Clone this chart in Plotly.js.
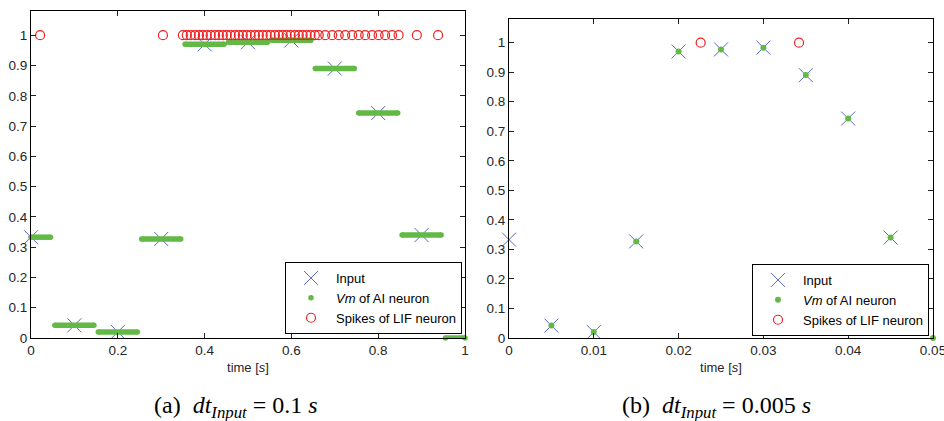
<!DOCTYPE html>
<html>
<head>
<meta charset="utf-8">
<script src="https://cdn.plot.ly/plotly-3.0.1.min.js"></script>
<style>html,body{margin:0;padding:0;background:#fff;}#chart{width:944px;height:421px;}</style>
</head>
<body>
<div id="chart"></div>
<script>
// ---------- data: panel (a), dt_Input = 0.1 s ----------
var inputTimesA = [0, 0.1, 0.2, 0.3, 0.4, 0.5, 0.6, 0.7, 0.8, 0.9];
var inputValuesA = [0.333, 0.042, 0.020, 0.327, 0.970, 0.977, 0.983, 0.890, 0.743, 0.340];
var vmStartA = [0, 0.055, 0.155, 0.255, 0.355, 0.455, 0.555, 0.655, 0.755, 0.855, 0.955];
var vmEndA   = [0.045, 0.145, 0.245, 0.345, 0.445, 0.545, 0.645, 0.745, 0.845, 0.945, 1.0];
var vmValuesA = [0.333, 0.042, 0.020, 0.327, 0.970, 0.977, 0.983, 0.890, 0.743, 0.340, 0];
var spikeTimesA = [0.021, 0.304,
  0.350, 0.359, 0.368, 0.378, 0.387, 0.396, 0.405, 0.414, 0.424, 0.433,
  0.442, 0.451, 0.460, 0.470, 0.479, 0.488, 0.497, 0.506, 0.516, 0.525,
  0.534, 0.543, 0.552, 0.562, 0.571, 0.580, 0.589, 0.598, 0.608, 0.617,
  0.626, 0.635, 0.644, 0.654,
  0.663, 0.678, 0.694, 0.709, 0.724, 0.740, 0.755, 0.770, 0.786, 0.801,
  0.816, 0.832, 0.847,
  0.889, 0.938];
var spikeValuesA = spikeTimesA.map(function(){ return 1; });

// ---------- data: panel (b), dt_Input = 0.005 s ----------
var inputTimesB = [0, 0.005, 0.010, 0.015, 0.020, 0.025, 0.030, 0.035, 0.040, 0.045];
var inputValuesB = [0.333, 0.042, 0.020, 0.327, 0.970, 0.977, 0.983, 0.890, 0.743, 0.340];
var vmTimesB = [0.005, 0.010, 0.015, 0.020, 0.025, 0.030, 0.035, 0.040, 0.045, 0.050];
var vmValuesB = [0.042, 0.020, 0.327, 0.970, 0.977, 0.983, 0.890, 0.743, 0.340, 0];
var spikeTimesB = [0.0226, 0.0342];
var spikeValuesB = [1, 1];

var legendNames = ['Input', '<i>Vm</i> of AI neuron', 'Spikes of LIF neuron'];
var captionA = '(a)&nbsp;&nbsp;<i>dt</i><sub><i>Input</i></sub>&nbsp;=&nbsp;0.1&nbsp;<i>s</i>';
var captionB = '(b)&nbsp;&nbsp;<i>dt</i><sub><i>Input</i></sub>&nbsp;=&nbsp;0.005&nbsp;<i>s</i>';

// ---------- styles ----------
var BLUE = '#4657bd', GREEN = '#62b946', RED = '#ee2222';
var SANS = 'Liberation Sans, Arial, sans-serif';

// build segment polyline for Vm bars
var segX = [], segY = [];
for (var i = 0; i < vmStartA.length; i++) {
  segX.push(vmStartA[i], vmEndA[i], null);
  segY.push(vmValuesA[i], vmValuesA[i], null);
}
var capX = vmStartA.concat(vmEndA);
var capY = vmValuesA.concat(vmValuesA);

var inputMarker = {symbol: 'x-thin-open', size: 14, color: BLUE, line: {color: BLUE, width: 0.9}};
var spikeMarker = {symbol: 'circle-open', size: 9, color: RED, line: {color: RED, width: 1.2}};

var traces = [
  {x: inputTimesA, y: inputValuesA, mode: 'markers', name: legendNames[0], marker: inputMarker,
   xaxis: 'x', yaxis: 'y', cliponaxis: false, legend: 'legend'},
  {x: segX, y: segY, mode: 'lines', line: {color: GREEN, width: 5.5}, showlegend: false,
   xaxis: 'x', yaxis: 'y', cliponaxis: false, hoverinfo: 'skip'},
  {x: capX, y: capY, mode: 'markers', name: legendNames[1],
   marker: {symbol: 'circle', size: 5.5, color: GREEN},
   xaxis: 'x', yaxis: 'y', cliponaxis: false, legend: 'legend'},
  {x: spikeTimesA, y: spikeValuesA, mode: 'markers', name: legendNames[2], marker: spikeMarker,
   xaxis: 'x', yaxis: 'y', cliponaxis: false, legend: 'legend'},

  {x: inputTimesB, y: inputValuesB, mode: 'markers', name: legendNames[0], marker: inputMarker,
   xaxis: 'x2', yaxis: 'y2', cliponaxis: false, legend: 'legend2'},
  {x: vmTimesB, y: vmValuesB, mode: 'markers', name: legendNames[1],
   marker: {symbol: 'circle', size: 6, color: GREEN},
   xaxis: 'x2', yaxis: 'y2', cliponaxis: false, legend: 'legend2'},
  {x: spikeTimesB, y: spikeValuesB, mode: 'markers', name: legendNames[2], marker: spikeMarker,
   xaxis: 'x2', yaxis: 'y2', cliponaxis: false, legend: 'legend2'}
];

var W = 944, H = 421;
function axisBase() {
  return {
    showgrid: false, zeroline: false, showline: true, linecolor: '#000', linewidth: 1,
    mirror: 'ticks', ticks: 'inside', ticklen: 5, tickwidth: 1, tickcolor: '#222',
    tickfont: {family: SANS, size: 13.5, color: '#262626'},
    ticklabeloverflow: 'allow', fixedrange: true
  };
}
var xa = axisBase(); xa.domain = [31/W, 465/W]; xa.range = [0, 1]; xa.dtick = 0.2; xa.tick0 = 0; xa.anchor = 'y';
xa.title = {text: 'time [<i>s</i>]', font: {family: SANS, size: 13, color: '#262626'}, standoff: 5};
var ya = axisBase(); ya.domain = [1 - 338/H, 1 - 11/H]; ya.range = [0, 1.08]; ya.dtick = 0.1; ya.tick0 = 0; ya.anchor = 'x';
var xb = axisBase(); xb.domain = [509/W, 933/W]; xb.range = [0, 0.05]; xb.dtick = 0.01; xb.tick0 = 0; xb.anchor = 'y2';
xb.title = {text: 'time [<i>s</i>]', font: {family: SANS, size: 13, color: '#262626'}, standoff: 5};
var yb = axisBase(); yb.domain = [1 - 338/H, 1 - 19/H]; yb.range = [0, 1.08]; yb.dtick = 0.1; yb.tick0 = 0; yb.anchor = 'x2';

function legendBase(x, y) {
  return {x: x, y: y, xanchor: 'right', yanchor: 'bottom', xref: 'paper', yref: 'paper',
    bgcolor: '#fff', bordercolor: '#000', borderwidth: 1,
    font: {family: SANS, size: 13, color: '#000'},
    itemwidth: 40, tracegroupgap: 0};
}

var layout = {
  width: W, height: H, margin: {l: 0, r: 0, t: 0, b: 0},
  paper_bgcolor: '#fff', plot_bgcolor: '#fff', showlegend: true,
  xaxis: xa, yaxis: ya, xaxis2: xb, yaxis2: yb,
  legend: legendBase(462/W, 1 - 334/H),
  legend2: legendBase(929/W, 1 - 336/H),
  annotations: [
    {text: captionA, xref: 'paper', yref: 'paper', x: 236/W, y: 1 - 407/H, xanchor: 'center', yanchor: 'middle',
     showarrow: false, font: {family: 'Liberation Serif, Times New Roman, serif', size: 24, color: '#000'}},
    {text: captionB, xref: 'paper', yref: 'paper', x: 716/W, y: 1 - 407/H, xanchor: 'center', yanchor: 'middle',
     showarrow: false, font: {family: 'Liberation Serif, Times New Roman, serif', size: 24, color: '#000'}}
  ]
};

Plotly.newPlot('chart', traces, layout, {displayModeBar: false, staticPlot: true});
</script>
</body>
</html>
